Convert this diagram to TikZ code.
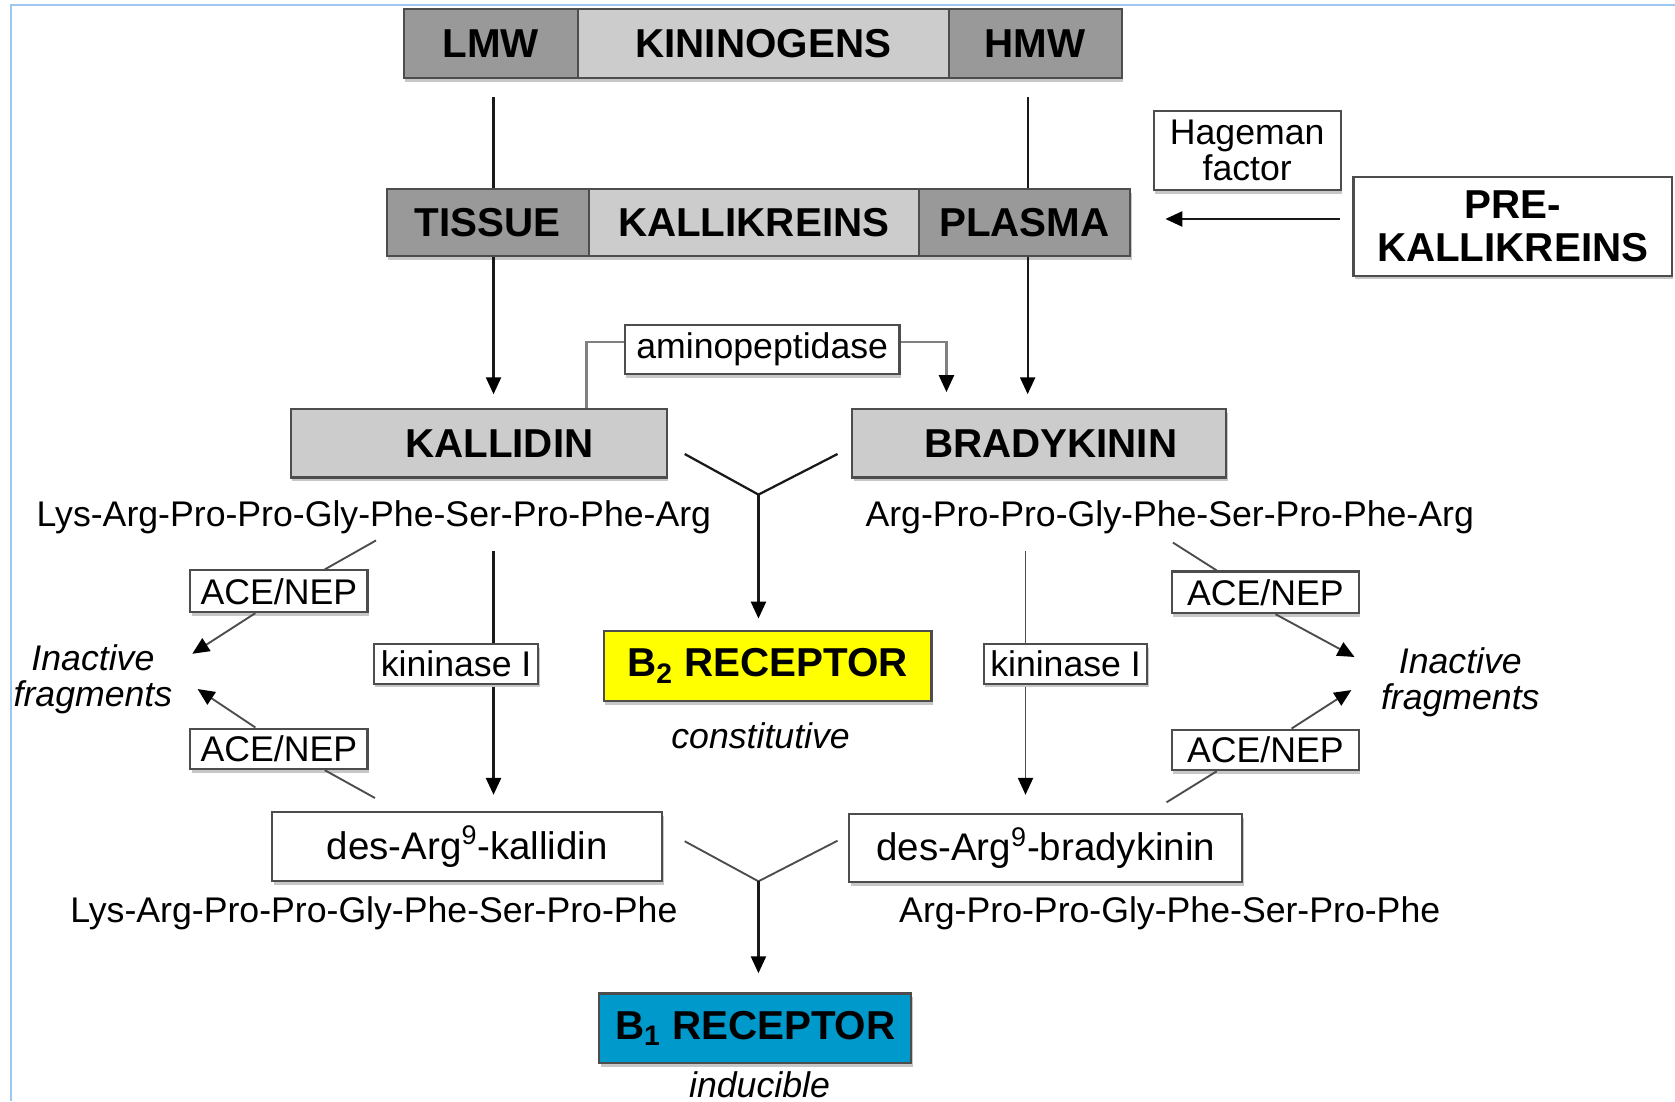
\documentclass[tikz,border=0pt]{standalone}
\usepackage{fontspec}
\setmainfont{Liberation Sans}
\usetikzlibrary{calc,arrows.meta,shadows}
\definecolor{dgray}{HTML}{999999}
\definecolor{lgray}{HTML}{CCCCCC}
\definecolor{bordc}{HTML}{4D4D4D}
\definecolor{bone}{HTML}{0099CC}
\definecolor{btwo}{HTML}{FFFF00}
\definecolor{framec}{HTML}{9CC8F0}
\begin{document}
\begin{tikzpicture}[x=0.02cm,y=-0.02cm,
  box/.style={draw=bordc, line width=1.1pt, inner sep=0pt},
  bx/.style n args={4}{minimum width={(#3-#1)*0.02cm}, minimum height={(#4-#2)*0.02cm}, at={({(#1+#3)/2},{(#2+#4)/2})}},
  shad/.style={general shadow={shadow xshift=0.8pt, shadow yshift=-2pt, fill=black!22}},
  bigtxt/.style={font=\fontsize{21.5}{22}\selectfont\bfseries},
  smtxt/.style={font=\fontsize{19}{19}\selectfont},
  midtxt/.style={font=\fontsize{20.5}{20}\selectfont},
  ittxt/.style={font=\fontsize{19}{19.3}\selectfont\itshape, align=center, inner sep=0pt},
  seqtxt/.style={font=\fontsize{19}{19}\selectfont, inner sep=0pt},
  conn/.style={line width=1.2pt, draw=black!90},
  thin/.style={line width=1pt, draw=black!70},
  tip/.style={-{Triangle[length=9pt,width=8pt,color=black]}},
  amconn/.style={line width=1.1pt, draw=black!50},
]
\useasboundingbox (0,0) rectangle (1568,1031);
\draw[framec, line width=1pt] (10,1031) -- (10,5) -- (1568,5);

% kininogens bar
\node[box, shad, fill=dgray, bigtxt, bx={378}{8}{541}{73}] (LMW) {LMW};
\node[box, shad, fill=lgray, bigtxt, bx={541}{8}{888}{73}] (KIN) {KININOGENS};
\node[box, shad, fill=dgray, bigtxt, bx={888}{8}{1050}{73}] (HMW) {HMW};

% kallikreins bar
\node[box, shad, fill=dgray, bigtxt, bx={362}{177}{551}{240}] (TISSUE) {TISSUE};
\node[box, shad, fill=lgray, bigtxt, bx={551}{177}{860}{240}] (KALL) {KALLIKREINS};
\node[box, shad, fill=dgray, bigtxt, bx={860}{177}{1058}{240}] (PLASMA) {PLASMA};

\node[box, shad, fill=white, smtxt, align=center, bx={1080}{104}{1255}{178}] (HAG) {Hageman\\factor};
\node[box, shad, fill=white, bigtxt, align=center, bx={1267}{166}{1565}{258}] (PRE) {PRE-\\[1pt]KALLIKREINS};

\node[box, shad, fill=white, smtxt, bx={585}{304}{842}{350}] (AMINO) {aminopeptidase};

\node[box, shad, fill=lgray, bigtxt, bx={272}{383}{624}{447}] (KALLIDIN) {\hspace{22pt}KALLIDIN};
\node[box, shad, fill=lgray, bigtxt, bx={798}{383}{1148}{447}] (BRADY) {\hspace{12pt}BRADYKININ};

\node[seqtxt] (seqK) at (350,484) {Lys-Arg-Pro-Pro-Gly-Phe-Ser-Pro-Phe-Arg};
\node[seqtxt] (seqB) at (1095,484) {Arg-Pro-Pro-Gly-Phe-Ser-Pro-Phe-Arg};

\node[box, shad, fill=btwo, bigtxt, bx={565}{591}{872}{656}] (B2) {B\textsubscript{2} RECEPTOR};
\node[ittxt] (constit) at (712,689) {constitutive};

\node[box, shad, fill=white, midtxt, bx={255}{760}{620}{825}] (desK) {des-Arg\textsuperscript{9}-kallidin};
\node[box, shad, fill=white, midtxt, bx={795}{762}{1163}{826}] (desB) {des-Arg\textsuperscript{9}-bradykinin};

\node[seqtxt] (seqK2) at (350,855) {Lys-Arg-Pro-Pro-Gly-Phe-Ser-Pro-Phe};
\node[seqtxt] (seqB2) at (1095,855) {Arg-Pro-Pro-Gly-Phe-Ser-Pro-Phe};

\node[box, shad, fill=bone, bigtxt, bx={561}{930}{853}{995}] (B1) {B\textsubscript{1} RECEPTOR};
\node[ittxt] (induc) at (711,1015) {inducible};

\node[ittxt] (inactL) at (87,636) {Inactive\\fragments};
\node[ittxt] (inactR) at (1367,639) {Inactive\\fragments};

% connectors: kininogens -> kallikreins
\coordinate (xL) at (462,0);
\coordinate (xR) at (962,0);
\coordinate (xR2) at (960,0);
\draw[conn] (LMW.south -| xL) ++(0,17) -- (TISSUE.north -| xL);
\draw[conn] (HMW.south -| xR) ++(0,17) -- (PLASMA.north -| xR);
\draw[conn, tip, shorten >=0.26cm] (TISSUE.south -| xL) -- (KALLIDIN.north -| xL);
\draw[conn, tip, shorten >=0.26cm] (PLASMA.south -| xR) -- (BRADY.north -| xR);

% prekallikreins arrow
\coordinate (yH) at (0,205);
\draw[conn, tip, shorten <=0.24cm, shorten >=0.64cm] (PRE.west |- yH) -- (PLASMA.east |- yH);

% aminopeptidase
\coordinate (xA1) at (549,0);
\coordinate (xA2) at (886,0);
\coordinate (yA) at (0,320);
\draw[amconn] (KALLIDIN.north -| xA1) |- (AMINO.west |- yA);
\draw[amconn, tip, shorten >=0.3cm] (AMINO.east |- yA) -| (BRADY.north -| xA2);

% Y join to B2
\coordinate (Y1) at (710,463);
\draw[conn] ($(KALLIDIN.east)+(16,10)$) -- (Y1) -- ($(BRADY.west)+(-13,10)$);
\draw[conn, tip, shorten >=0.22cm] (Y1) -- (Y1 |- B2.north);

% kininase I lines
\draw[conn, tip, shorten >=0.3cm] ($(seqK.south -| xL)+(0,16)$) -- (desK.north -| xL);
\draw[thin, tip, shorten >=0.34cm] ($(seqB.south -| xR2)+(0,16)$) -- (desB.north -| xR2);
\node[box, shad, fill=white, smtxt, bx={350}{603}{504}{640}] (kinL) {kininase I};
\node[box, shad, fill=white, smtxt, bx={921}{603}{1074}{640}] (kinR) {kininase I};

% ACE/NEP boxes
\node[box, shad, fill=white, smtxt, bx={178}{534}{344}{573}] (aceLU) {ACE/NEP};
\node[box, shad, fill=white, smtxt, bx={178}{682}{344}{720}] (aceLL) {ACE/NEP};
\node[box, shad, fill=white, smtxt, bx={1097}{535}{1272}{574}] (aceRU) {ACE/NEP};
\node[box, shad, fill=white, smtxt, bx={1097}{683}{1272}{721}] (aceRL) {ACE/NEP};

\coordinate (tLU) at (180,612);
\coordinate (tLL) at (185,645);
\coordinate (tRU) at (1268,615);
\coordinate (tRL) at (1265,646);

\draw[thin] ($(seqK.south)+(2,6)$) -- ($(aceLU.north west)+(127,0)$);
\draw[thin, tip] ($(aceLU.south west)+(62,0)$) -- (tLU);
\draw[thin, tip] ($(aceLL.north west)+(62,0)$) -- (tLL);
\draw[thin] ($(aceLL.south west)+(127,0)$) -- ($(desK.north west)+(97,-12)$);

\draw[thin] ($(seqB.south)+(3,8)$) -- ($(aceRU.north west)+(43,0)$);
\draw[thin, tip] ($(aceRU.south west)+(98,0)$) -- (tRU);
\draw[thin, tip] ($(aceRL.north west)+(113,0)$) -- (tRL);
\draw[thin] ($(aceRL.south west)+(43,0)$) -- ($(desB.north west)+(298,-10)$);

% Y join to B1
\coordinate (Y2) at (710,825);
\draw[thin] ($(desK.east)+(20,-5)$) -- (Y2) -- ($(desB.west)+(-10,-7)$);
\draw[conn, tip, shorten >=0.36cm] (Y2) -- (Y2 |- B1.north);
\end{tikzpicture}
\end{document}
